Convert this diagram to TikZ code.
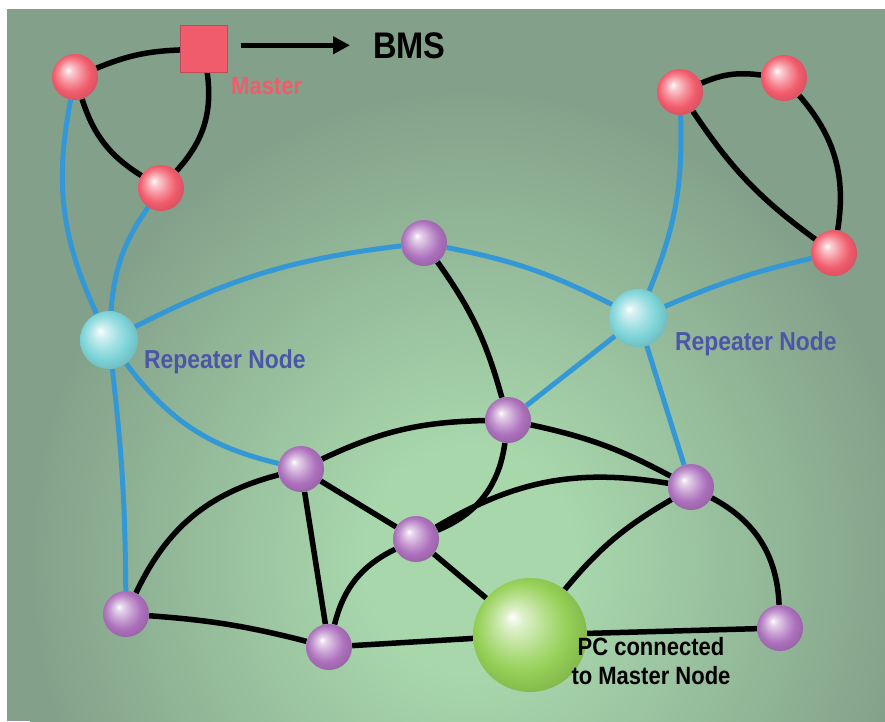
\documentclass[tikz,border=0pt]{standalone}
\usepackage{fontspec}
\usepackage{xcolor}
\usepackage{tikz}
\usetikzlibrary{arrows.meta}

\newfontfamily\labelfont[FakeStretch=0.88]{Liberation Sans}

\definecolor{bgedge}{RGB}{131,161,138}
\definecolor{bgmid}{RGB}{168,215,172}
\definecolor{linkblue}{RGB}{52,152,214}
\definecolor{ballred}{RGB}{242,92,108}
\definecolor{ballpurple}{RGB}{172,112,188}
\definecolor{ballcyan}{RGB}{125,212,216}
\definecolor{ballgreen}{RGB}{148,208,86}
\definecolor{masterred}{RGB}{240,92,107}
\definecolor{tagblue}{RGB}{75,86,168}

% sphere look, recoloured through sphcol
\colorlet{sphcol}{white}
\pgfdeclareradialshading[sphcol]{sphere}{\pgfpoint{-8bp}{8bp}}{%
  color(0bp)=(white); color(4bp)=(sphcol!30!white); color(13bp)=(sphcol!72!white);
  color(20bp)=(sphcol); color(28bp)=(sphcol!88!black); color(36bp)=(sphcol!80!black)}
\pgfdeclareradialshading{glow}{\pgfpointorigin}{%
  color(0bp)=(bgmid); color(6bp)=(bgmid); color(25bp)=(bgedge); color(50bp)=(bgedge)}

\pgfdeclarelayer{back}
\pgfdeclarelayer{wires}
\pgfsetlayers{back,wires,main}

\begin{document}
\begin{tikzpicture}[
    x=1pt, y=1pt,
    ballnode/.style={circle, inner sep=0pt, minimum size=46pt, shading=sphere},
    redball/.style={ballnode, /utils/exec=\colorlet{sphcol}{ballred}},
    purpleball/.style={ballnode, /utils/exec=\colorlet{sphcol}{ballpurple}},
    repeater/.style={ballnode, minimum size=58pt, /utils/exec=\colorlet{sphcol}{ballcyan}},
    pcball/.style={ballnode, minimum size=114pt, /utils/exec=\colorlet{sphcol}{ballgreen}},
    link/.style={line width=5.5pt, black},
    radio/.style={line width=5pt, linkblue},
    tag/.style={inner sep=0pt, anchor=base west}
  ]
    \useasboundingbox (0,0) rectangle (885,-721);

    % backdrop
    \begin{pgfonlayer}{back}
      \fill[white] (0,0) rectangle (885,-721);
      \fill[bgedge] (7,-9) rectangle (885,-721);
      \begin{scope}
        \clip (7,-9) rectangle (885,-721);
        \shade[shading=glow] (30,-90) rectangle (910,-1030);
      \end{scope}
    \end{pgfonlayer}

    % top left cluster
    \node[redball] (r1) at (75,-77) {};
    \node[redball] (r2) at (161,-188) {};
    \node[draw=masterred!80!black, fill=masterred, minimum size=47pt, inner sep=0pt] (master) at (204,-49) {};
    \node[tag, font=\labelfont\bfseries\fontsize{25}{28}\selectfont, text=masterred] (mastertag) at (231,-94) {Master};
    \node[tag, font=\labelfont\bfseries\fontsize{37}{40}\selectfont] (bms) at (373,-58) {BMS};

    % top right cluster
    \node[redball] (r3) at (680,-92) {};
    \node[redball] (r4) at (784,-78) {};
    \node[redball] (r5) at (834,-253) {};

    % repeaters
    \node[repeater] (rep1) at (109,-340) {};
    \node[repeater] (rep2) at (638,-318) {};
    \node[tag, font=\labelfont\bfseries\fontsize{26}{28}\selectfont, text=tagblue] (reptag1) at (144,-368) {Repeater Node};
    \node[tag, font=\labelfont\bfseries\fontsize{26}{28}\selectfont, text=tagblue] (reptag2) at (675,-350) {Repeater Node};

    % mesh
    \node[purpleball] (p1) at (424,-243) {};
    \node[purpleball] (p2) at (508,-420) {};
    \node[purpleball] (p3) at (301,-469) {};
    \node[purpleball] (p4) at (416,-539) {};
    \node[purpleball] (p5) at (691,-487) {};
    \node[purpleball] (p6) at (126,-614) {};
    \node[purpleball] (p7) at (329,-647) {};
    \node[purpleball] (p8) at (780,-628) {};
    \node[pcball] (pc) at (530,-635) {};
    \node[inner sep=0pt, anchor=base, align=center, font=\labelfont\bfseries\fontsize{25}{29}\selectfont] (pctag) at (651,-684) {PC connected\\to Master Node};

    \draw[line width=5.5pt, -{Triangle[length=17pt, width=17pt]}, shorten <=13pt, shorten >=23pt]
      (master.east |- bms.west) -- (bms.west);

    \begin{pgfonlayer}{wires}
      \draw[link] (r1) to[bend left=10] (master);
      \draw[link] (r1) to[bend right=20] (r2);
      \draw[link] (master) to[bend left=25] (r2);
      \draw[link] (r3) to[bend left=15] (r4);
      \draw[link] (r4) to[bend left=25] (r5);
      \draw[link] (r3) to[bend right=10] (r5);

      \draw[radio] (r1) to[bend right=18] (rep1);
      \draw[radio] (r2) to[bend right=15] (rep1);
      \draw[radio] (rep1) to[bend left=10] (p1);
      \draw[radio] (p1) to[bend left=8] (rep2);
      \draw[radio] (r3) to[bend left=12] (rep2);
      \draw[radio] (r5) to[bend right=5] (rep2);
      \draw[radio] (rep1) to[bend right=20] (p3);
      \draw[radio] (rep1) to[bend left=3] (p6);
      \draw[radio] (rep2) -- (p2);
      \draw[radio] (rep2) -- (p5);

      \draw[link] (p1) to[bend left=10] (p2);
      \draw[link] (p3) to[bend left=12] (p2);
      \draw[link] (p2) to[bend left=8] (p5);
      \draw[link] (p2) to[bend left=30] (p4);
      \draw[link] (p4) to[bend left=20] (p5);
      \draw[link] (p3) -- (p4);
      \draw[link] (p3) -- (p7);
      \draw[link] (p3) to[bend right=25] (p6);
      \draw[link] (p4) to[bend right=25] (p7);
      \draw[link] (p4) -- (pc);
      \draw[link] (p6) to[bend left=5] (p7);
      \draw[link] (p7) -- (pc);
      \draw[link] (pc) -- (p8);
      \draw[link] (pc) to[bend left=10] (p5);
      \draw[link] (p5) to[bend left=30] (p8);
    \end{pgfonlayer}
  \end{tikzpicture}
\end{document}
